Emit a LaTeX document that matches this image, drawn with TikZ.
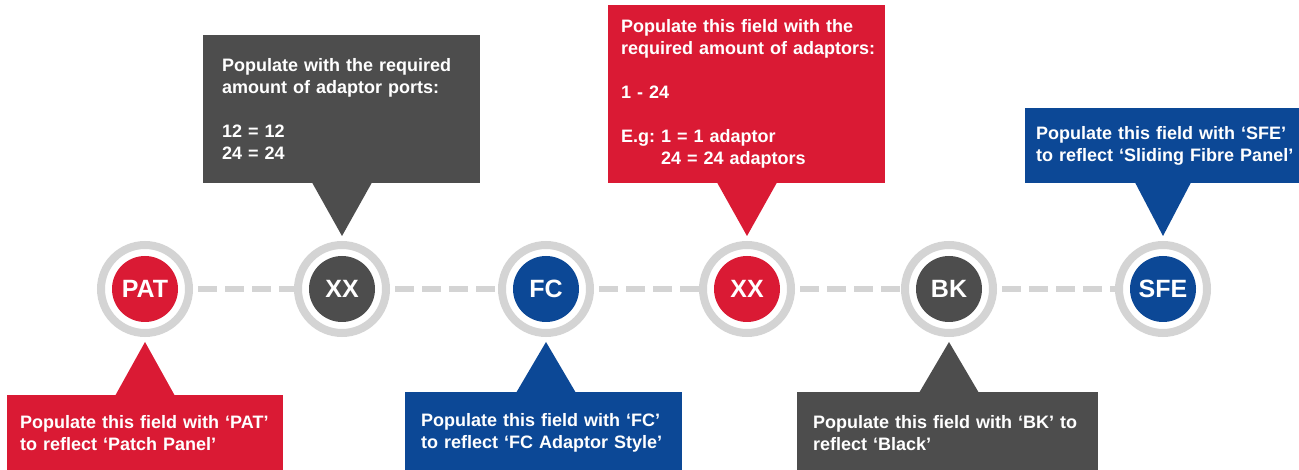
\documentclass[tikz,border=0pt]{standalone}
\usepackage{fontspec}
\setmainfont{Liberation Sans}
\usetikzlibrary{calc}
\definecolor{cred}{RGB}{218,26,52}
\definecolor{cgray}{RGB}{77,77,77}
\definecolor{cblue}{RGB}{12,72,150}
\definecolor{cring}{RGB}{212,212,212}
\newcommand\oneline[1]{\mbox{#1}}
\tikzset{
  ring/.style={circle, draw=cring, line width=8pt, fill=white, minimum size=88pt, inner sep=0pt},
  disc/.style={circle, fill=#1, minimum size=66pt, inner sep=0pt, text=white,
    font=\fontsize{25}{25}\selectfont\bfseries},
  callout/.style={fill=#1, anchor=north west, text=white, align=left, inner ysep=0pt,
    font=\fontsize{18}{22}\selectfont\bfseries\frenchspacing},
  dashline/.style={draw=cring, line width=6pt, dash pattern=on 19pt off 8pt, dash phase=22pt}
}
\begin{document}
\begin{tikzpicture}[x=1pt,y=-1pt]
\useasboundingbox (0,0) rectangle (1299,470);
\clip (0,0) rectangle (1299,470);

% circles
\node[ring] (pat) at (145,289) {};
\node[ring] (xxa) at (342,289) {};
\node[ring] (fc)  at (546,289) {};
\node[ring] (xxb) at (747,289) {};
\node[ring] (bk)  at (949,289) {};
\node[ring] (sfe) at (1163,289) {};

\node[disc=cred]  (patl) at (pat) {PAT};
\node[disc=cgray] (xxal) at (xxa) {XX};
\node[disc=cblue] (fcl)  at (fc)  {FC};
\node[disc=cred]  (xxbl) at (xxb) {XX};
\node[disc=cgray] (bkl)  at (bk)  {BK};
\node[disc=cblue] (sfel) at (sfe) {SFE};

% dashed connectors
\draw[dashline] (pat) -- (xxa);
\draw[dashline] (xxa) -- (fc);
\draw[dashline] (fc) -- (xxb);
\draw[dashline] (xxb) -- (bk);
\draw[dashline] (bk) -- (sfe);

% callout boxes
\node[callout=cred, inner xsep=13pt, text width=250pt, minimum height=76pt] (patbox) at (7,395)
  {\oneline{Populate this field with ‘PAT’}\\\oneline{to reflect ‘Patch Panel’}};
\node[callout=cgray, inner xsep=19pt, text width=239pt, minimum height=148pt] (xxabox) at (203,35)
  {\oneline{Populate with the required}\\\oneline{amount of adaptor ports:}\\[22pt]\oneline{12 = 12}\\\oneline{24 = 24}};
\node[callout=cblue, inner xsep=16pt, text width=245pt, minimum height=82pt] (fcbox) at (405,392)
  {\oneline{Populate this field with ‘FC’}\\\oneline{to reflect ‘FC Adaptor Style’}};
\node[callout=cred, inner xsep=13pt, text width=251pt, minimum height=178pt] (xxbbox) at (608,5)
  {\oneline{Populate this field with the}\\\oneline{required amount of adaptors:}\\[22pt]\oneline{1 - 24}\\[22pt]\oneline{E.g: 1 = 1 adaptor}\\\oneline{\hspace*{40pt}24 = 24 adaptors}};
\node[callout=cgray, inner xsep=16pt, text width=269pt, minimum height=82pt] (bkbox) at (797,392)
  {\oneline{Populate this field with ‘BK’ to}\\\oneline{reflect ‘Black’}};
\node[callout=cblue, inner xsep=11pt, text width=268pt, minimum height=75pt] (sfebox) at (1025,108)
  {\oneline{Populate this field with ‘SFE’}\\\oneline{to reflect ‘Sliding Fibre Panel’}};

% pointers
\fill[cred]  ($(pat.south)+(0,5)$) -- ($(patbox.north -| pat)+(-30,1)$) -- ($(patbox.north -| pat)+(30,1)$) -- cycle;
\fill[cgray] ($(xxa.north)+(0,-5)$) -- ($(xxabox.south -| xxa)+(-30,-1)$) -- ($(xxabox.south -| xxa)+(30,-1)$) -- cycle;
\fill[cblue] ($(fc.south)+(0,5)$) -- ($(fcbox.north -| fc)+(-30,1)$) -- ($(fcbox.north -| fc)+(30,1)$) -- cycle;
\fill[cred]  ($(xxb.north)+(0,-5)$) -- ($(xxbbox.south -| xxb)+(-30,-1)$) -- ($(xxbbox.south -| xxb)+(30,-1)$) -- cycle;
\fill[cgray] ($(bk.south)+(0,5)$) -- ($(bkbox.north -| bk)+(-30,1)$) -- ($(bkbox.north -| bk)+(30,1)$) -- cycle;
\fill[cblue] ($(sfe.north)+(0,-5)$) -- ($(sfebox.south -| sfe)+(-28,-1)$) -- ($(sfebox.south -| sfe)+(28,-1)$) -- cycle;
\end{tikzpicture}
\end{document}
